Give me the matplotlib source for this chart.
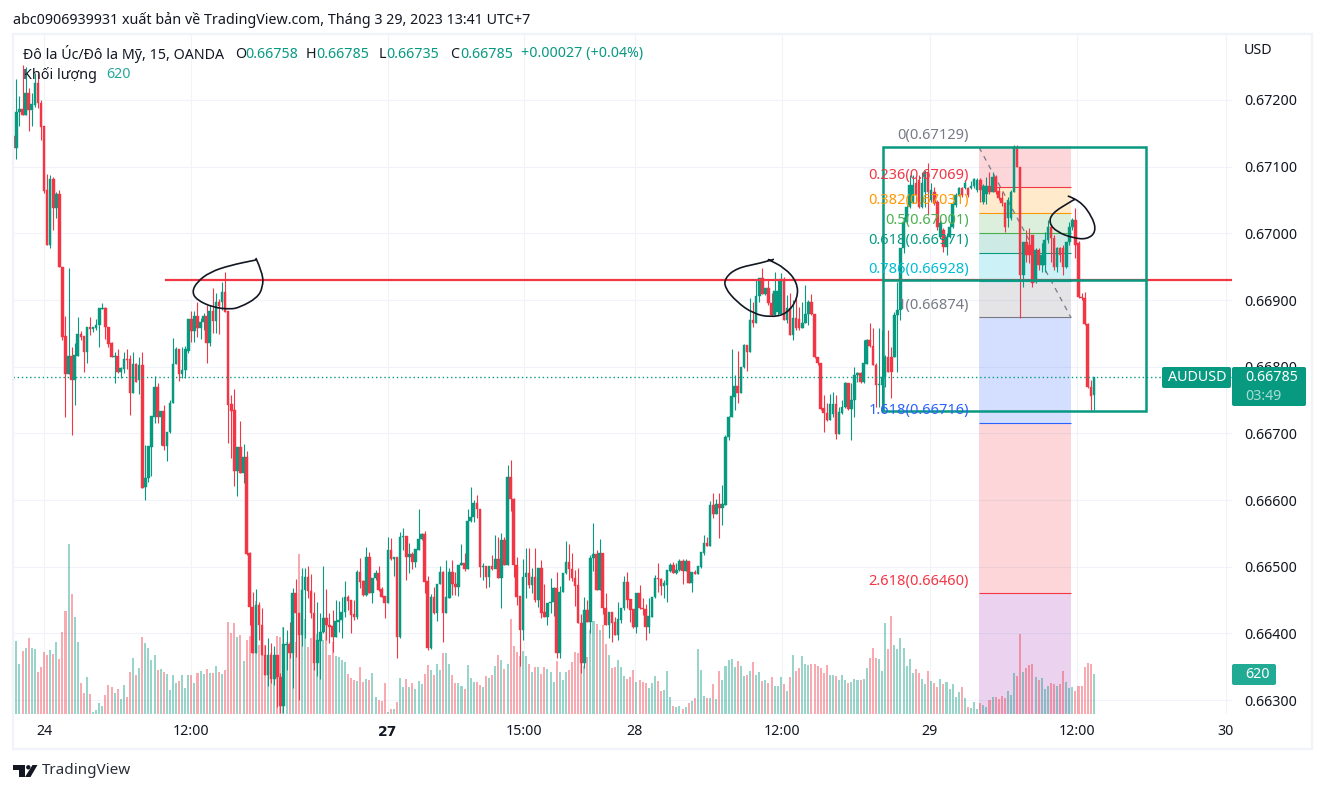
import numpy as np
import matplotlib
matplotlib.use('Agg')
import matplotlib.pyplot as plt
from matplotlib.patches import Rectangle, FancyBboxPatch, PathPatch, Polygon, Circle
from matplotlib.path import Path

plt.rcParams['font.family'] = ['Noto Sans', 'DejaVu Sans']

W, H = 1325, 793

# AUDUSD 15 phut, gia tinh theo 1/100000
opens = [
    67146,67128,67182,67187,67178,67210,67185,67192,67226,67196,
    67161,67065,66982,67081,67038,67059,66950,66846,66789,66816,
    66780,66816,66849,66846,66822,66860,66857,66858,66862,66886,
    66888,66860,66835,66815,66816,66792,66796,66811,66811,66760,
    66804,66780,66802,66620,66633,66680,66724,66769,66724,66733,
    66681,66702,66746,66804,66827,66789,66795,66824,66872,66854,
    66876,66858,66867,66876,66836,66884,66869,66897,66897,66912,
    66883,66744,66735,66643,66679,66640,66664,66520,66440,66370,
    66443,66412,66367,66337,66367,66331,66367,66334,66291,66382,
    66384,66370,66460,66430,66397,66465,66485,66464,66430,66355,
    66388,66402,66423,66412,66411,66395,66417,66420,66432,66454,
    66450,66429,66424,66492,66478,66457,66514,66460,66483,66490,
    66466,66456,66445,66525,66511,66514,66394,66544,66546,66514,
    66519,66507,66525,66542,66549,66478,66378,66454,66430,66474,
    66492,66430,66453,66492,66474,66470,66503,66505,66497,66569,
    66575,66596,66587,66500,66501,66485,66501,66497,66512,66483,
    66540,66503,66635,66602,66503,66456,66405,66485,66490,66472,
    66485,66450,66498,66432,66424,66445,66447,66468,66370,66462,
    66490,66507,66497,66483,66472,66415,66355,66435,66417,66513,
    66519,66465,66520,66438,66412,66432,66417,66397,66420,66438,
    66477,66451,66436,66409,66460,66438,66436,66409,66425,66454,
    66483,66481,66471,66472,66493,66502,66490,66495,66508,66493,
    66508,66475,66492,66489,66499,66520,66535,66531,66592,66579,
    66594,66588,66592,66694,66724,66754,66771,66760,66799,66832,
    66822,66870,66865,66906,66933,66909,66918,66895,66878,66882,
    66879,66932,66870,66888,66848,66873,66871,66858,66865,66879,
    66897,66879,66815,66805,66738,66730,66720,66729,66744,66699,
    66730,66740,66776,66737,66750,66787,66790,66777,66804,66840,
    66831,66802,66772,66772,66785,66815,66815,66815,66878,66885,
    66978,67017,67039,67045,67075,67080,67039,67062,67092,67050,
    67062,67047,66994,67005,66979,66994,67009,67042,67057,67068,
    67068,67068,67068,67071,67065,67080,67047,67059,67071,67062,
    67084,67063,67053,67045,67023,67023,67062,67129,67099,66938,
    66987,66982,66998,66927,66975,66952,66952,66990,67009,66993,
    66949,66978,66978,66949,66987,67009,67020,66985,66905,66903,
    66864,66770,66758]
closes = [
    67128,67182,67187,67178,67210,67185,67194,67226,67196,67160,
    67064,66982,67081,67038,67059,66950,66845,66789,66816,66780,
    66818,66849,66845,66822,66860,66857,66860,66862,66888,66888,
    66860,66834,66815,66816,66792,66798,66811,66810,66760,66804,
    66777,66802,66618,66633,66681,66726,66769,66724,66733,66681,
    66702,66746,66804,66827,66789,66795,66827,66872,66854,66876,
    66858,66867,66876,66836,66884,66869,66897,66891,66912,66882,
    66742,66733,66643,66679,66640,66664,66519,66440,66370,66443,
    66412,66367,66337,66367,66331,66367,66334,66291,66384,66384,
    66370,66460,66430,66397,66465,66485,66464,66430,66355,66390,
    66402,66423,66412,66410,66395,66418,66420,66432,66454,66448,
    66427,66424,66492,66477,66457,66514,66460,66483,66490,66465,
    66454,66445,66525,66511,66514,66394,66544,66546,66514,66519,
    66507,66526,66542,66549,66477,66378,66454,66430,66474,66492,
    66430,66454,66492,66474,66470,66503,66505,66497,66569,66575,
    66596,66587,66500,66501,66485,66501,66497,66512,66483,66540,
    66503,66635,66602,66503,66455,66405,66485,66490,66472,66485,
    66450,66498,66430,66424,66445,66447,66468,66370,66462,66490,
    66507,66497,66483,66471,66415,66355,66435,66417,66513,66519,
    66465,66520,66438,66412,66432,66415,66397,66421,66438,66477,
    66450,66435,66409,66460,66438,66436,66409,66426,66454,66483,
    66481,66471,66475,66495,66502,66490,66495,66508,66493,66508,
    66475,66492,66489,66501,66522,66535,66531,66592,66579,66594,
    66588,66594,66694,66724,66756,66771,66760,66799,66832,66822,
    66870,66865,66906,66933,66909,66918,66895,66878,66913,66913,
    66932,66870,66888,66848,66873,66858,66858,66865,66879,66897,
    66879,66815,66805,66736,66730,66720,66744,66744,66699,66732,
    66740,66776,66737,66750,66787,66790,66777,66805,66840,66831,
    66802,66772,66774,66785,66815,66792,66792,66878,66885,66978,
    67017,67039,67072,67072,67057,67039,67075,67092,67062,67065,
    67045,67009,67015,66979,66994,67009,67044,67057,67068,67057,
    67075,67057,67071,67081,67080,67065,67071,67071,67062,67084,
    67062,67053,67045,67009,67050,67062,67129,67099,66938,66987,
    66968,66968,66926,66975,66952,66968,66990,67009,66993,66949,
    66978,66968,66949,66987,67009,67020,66983,66905,66903,66864,
    66770,66756,66785]
highs = [
    67194,67232,67206,67252,67250,67218,67210,67240,67240,67200,
    67161,67089,67088,67084,67062,67065,66950,66876,66948,66830,
    66836,66875,66854,66846,66860,66875,66860,66871,66888,66895,
    66889,66860,66837,66822,66826,66800,66822,66826,66818,66822,
    66805,66814,66822,66683,66681,66726,66786,66775,66733,66742,
    66702,66750,66843,66830,66827,66830,66831,66872,66884,66884,
    66897,66873,66880,66892,66892,66918,66910,66901,66927,66942,
    66883,66757,66766,66679,66718,66684,66673,66522,66462,66466,
    66447,66438,66382,66393,66385,66381,66367,66340,66410,66405,
    66417,66468,66482,66430,66498,66498,66501,66489,66462,66447,
    66430,66501,66466,66430,66435,66450,66448,66454,66478,66457,
    66450,66450,66495,66513,66480,66529,66522,66483,66495,66501,
    66469,66456,66544,66543,66514,66514,66552,66558,66546,66535,
    66522,66526,66587,66550,66554,66486,66459,66469,66474,66501,
    66494,66510,66498,66510,66492,66503,66534,66520,66587,66620,
    66600,66608,66587,66505,66501,66501,66518,66548,66544,66550,
    66544,66653,66660,66603,66515,66456,66512,66528,66528,66498,
    66528,66498,66510,66474,66445,66483,66469,66492,66471,66490,
    66538,66534,66520,66495,66498,66429,66454,66450,66517,66565,
    66525,66541,66520,66460,66432,66432,66424,66447,66438,66486,
    66492,66451,66436,66460,66472,66453,66444,66453,66454,66487,
    66505,66483,66480,66495,66505,66507,66505,66511,66511,66511,
    66508,66492,66495,66501,66522,66547,66544,66598,66610,66601,
    66610,66622,66697,66726,66826,66787,66823,66799,66834,66832,
    66903,66897,66930,66933,66948,66918,66932,66910,66942,66930,
    66941,66935,66908,66910,66900,66903,66889,66897,66922,66900,
    66909,66879,66815,66805,66757,66745,66759,66762,66757,66740,
    66750,66777,66776,66776,66800,66792,66792,66840,66841,66865,
    66858,66805,66858,66855,66818,66855,66830,66882,66927,66978,
    67024,67042,67087,67087,67084,67087,67092,67095,67105,67075,
    67069,67050,67020,67008,67000,67015,67045,67060,67069,67069,
    67080,67069,67078,67083,67083,67083,67074,67085,67092,67092,
    67087,67069,67062,67047,67054,67065,67132,67132,67099,66987,
    67005,67008,66998,66978,66978,66985,67002,67020,67012,66997,
    66980,66980,66982,66987,67017,67023,67038,66988,66910,66912,
    66866,66780,66785]
lows = [
    67110,67112,67161,67178,67178,67154,67161,67190,67188,67140,
    67060,66982,66978,67005,67023,66950,66840,66724,66789,66698,
    66743,66816,66840,66792,66805,66848,66852,66855,66830,66886,
    66842,66830,66815,66775,66790,66783,66790,66796,66728,66760,
    66777,66759,66618,66600,66627,66636,66715,66715,66682,66675,
    66658,66700,66746,66804,66778,66783,66783,66820,66837,66837,
    66845,66842,66855,66806,66831,66850,66850,66849,66885,66882,
    66685,66663,66621,66606,66640,66625,66518,66412,66370,66370,
    66390,66367,66337,66321,66325,66322,66290,66280,66280,66345,
    66363,66318,66365,66300,66381,66393,66453,66423,66345,66336,
    66332,66400,66390,66385,66372,66395,66402,66393,66424,66435,
    66400,66420,66421,66468,66456,66456,66460,66445,66480,66463,
    66454,66423,66445,66510,66486,66363,66393,66525,66480,66490,
    66497,66500,66525,66540,66460,66375,66376,66429,66418,66474,
    66387,66430,66453,66458,66458,66456,66503,66494,66497,66567,
    66567,66573,66485,66480,66468,66470,66495,66498,66483,66438,
    66503,66503,66584,66485,66443,66351,66390,66453,66468,66460,
    66447,66440,66423,66424,66412,66430,66426,66363,66363,66462,
    66489,66480,66478,66441,66415,66340,66348,66417,66400,66493,
    66465,66465,66429,66412,66393,66387,66397,66390,66415,66435,
    66438,66417,66408,66400,66436,66427,66390,66400,66425,66453,
    66462,66458,66453,66447,66492,66490,66489,66493,66474,66493,
    66475,66462,66489,66489,66498,66517,66531,66531,66573,66579,
    66543,66562,66592,66690,66724,66735,66745,66760,66798,66793,
    66822,66859,66865,66897,66909,66907,66892,66876,66878,66878,
    66879,66870,66866,66848,66840,66855,66855,66858,66865,66862,
    66877,66813,66802,66735,66702,66718,66720,66725,66692,66699,
    66729,66738,66735,66690,66725,66777,66775,66775,66804,66830,
    66802,66739,66739,66732,66770,66792,66753,66815,66792,66870,
    66970,67015,67038,67045,67045,67038,67038,67039,67027,67047,
    67042,67005,66993,66972,66967,66993,67008,67039,67056,67055,
    67066,67055,67066,67068,67062,67047,67044,67044,67059,67062,
    67059,67050,67041,67002,67009,67020,67062,67099,66873,66920,
    66957,66955,66920,66925,66945,66942,66942,66985,66957,66945,
    66942,66957,66938,66948,66983,67005,66963,66903,66900,66862,
    66768,66735,66735]
volumes = [
    1205,1127,770,972,1018,1174,1018,1003,646,724,
    956,910,987,925,1112,848,1267,1592,2632,1856,
    1499,1112,476,321,569,305,26,57,165,119,
    290,445,414,321,383,227,445,259,646,863,
    600,708,1189,1096,1018,832,910,677,693,646,
    615,367,600,476,507,600,398,600,600,476,
    631,662,615,693,631,631,739,646,615,677,
    1422,1251,1406,1189,1220,817,1143,1205,1143,1747,
    1065,1065,1070,812,941,884,1215,1199,1354,1122,
    1122,1122,1122,2482,2140,1473,1044,1174,889,1241,
    1277,1148,1277,915,1122,900,879,838,807,620,
    558,527,512,734,496,543,527,636,264,217,
    202,481,31,78,78,186,558,419,543,419,
    481,388,512,465,620,760,682,605,776,682,
    946,946,776,605,481,481,434,388,760,558,
    496,496,450,419,589,558,605,744,915,838,
    698,776,1473,1055,962,900,977,900,776,651,
    724,724,620,724,698,651,496,822,651,527,
    651,682,807,962,946,1091,750,884,1303,1442,
    1396,1303,1380,1086,915,714,729,838,729,589,
    543,574,682,496,527,496,481,403,481,589,
    512,357,372,667,264,124,109,124,78,109,
    171,202,248,1008,682,279,248,248,465,233,
    667,527,745,838,853,729,822,745,589,605,
    667,807,605,646,507,522,476,569,429,429,
    569,460,352,569,910,662,719,894,770,755,
    770,770,739,708,631,755,600,605,589,527,
    605,527,481,496,543,527,527,543,713,869,
    1024,869,853,667,1411,1008,1520,1070,1008,1179,
    1024,744,853,636,698,636,543,465,667,512,
    481,419,543,465,496,388,465,264,341,419,
    248,109,93,186,78,171,140,109,217,264,
    264,233,279,248,357,295,636,589,1241,651,
    713,760,776,574,527,558,388,434,481,465,
    434,465,667,496,403,419,357,434,434,729,
    791,776,620]

price_ticks = [0.663, 0.664, 0.665, 0.666, 0.667, 0.668, 0.669, 0.670, 0.671, 0.672]
time_labels = ['24', '12:00', '', '15:00', '28', '12:00', '29', '12:00', '30']
time_bars = [10, 58, 122, 166.5, 202.5, 250.5, 298.5, 346.5, 395]

# fibonacci
fib_ratios = ['0', '0.236', '0.382', '0.5', '0.618', '0.786', '1', '1.618', '2.618']
fib_prices = [0.67129, 0.67069, 0.67031, 0.67001, 0.66971, 0.66928, 0.66874, 0.66716, 0.66460]
fib_colors = ['#787b86', '#f23645', '#ff9800', '#4caf50', '#089981', '#00bcd4', '#787b86', '#2962ff', '#f23645']
fib_left, fib_right = 314.6, 344.5

last_price = 0.66785
level_price = 0.66930
box_low = 0.667335

# net ve tay: (bar, gia)
circle_1 = [(79.0,.66963),(81.3,.66940),(81.3,.66919),(79.4,.66903),(73.8,.66889),(70.6,.66886),(65.0,.66889),
            (59.8,.66900),(58.2,.66912),(59.8,.66927),(64.1,.66942),(70.6,.66952),(79.0,.66960)]
circle_2 = [(247.8,.66961),(243.2,.66955),(235.7,.66948),(231.8,.66933),(231.8,.66918),(235.7,.66897),(240.9,.66880),
            (246.5,.66874),(252.0,.66879),(255.6,.66903),(255.3,.66927),(251.4,.66948),(245.8,.66961)]
circle_3 = [(343.5,.67056),(347.4,.67050),(351.7,.67023),(352.7,.67002),(349.8,.66991),(345.2,.66993),(340.0,.67002),
            (337.4,.67015),(338.3,.67030),(344.2,.67047),(345.8,.67051)]

GREEN = '#089981'
RED = '#f23645'
INK = '#131722'
GRID = '#f0f3fa'

o = np.array(opens) / 100000
c = np.array(closes) / 100000
hi = np.array(highs) / 100000
lo = np.array(lows) / 100000
vol = np.array(volumes)
x = np.arange(len(o))
up = c >= o
colors = np.where(up, GREEN, RED)

fig = plt.figure(figsize=(W / 100, H / 100), dpi=100)
pos = [13 / W, 1 - 714 / H, (1232 - 13) / W, (714 - 34) / H]

# tang duoi: luoi va vung fibo, giua: khoi luong, tren: nen
ax = fig.add_axes(pos)
ax_vol = fig.add_axes(pos, sharex=ax)
ax_top = fig.add_axes(pos, sharex=ax, sharey=ax)
ax_vol.axis('off')
ax_top.axis('off')

ax.set_xlim(-0.1, 397)
ax.set_ylim(0.66279, 0.67299)
ax_vol.set_ylim(0, 680 * 15.5)

ax.grid(True, color=GRID, linewidth=0.75)
ax.set_axisbelow(True)
for s in ax.spines.values():
    s.set_visible(False)
ax.yaxis.tick_right()
ax.set_yticks(price_ticks)
ax.set_yticklabels(['%.5f' % p for p in price_ticks])
ax.set_xticks(time_bars)
ax.set_xticklabels(time_labels)
ax.tick_params(axis='both', length=0, labelsize=10.25, labelcolor=INK)
ax.tick_params(axis='y', pad=9)
ax.tick_params(axis='x', pad=7.5)
# nhan ngay dau tuan in dam
ax.annotate('27', xy=(time_bars[2], 0), xycoords=ax.get_xaxis_transform(), xytext=(0, -18),
            textcoords='offset pixels', ha='center', va='center', fontsize=10, fontweight='bold',
            family='DejaVu Sans', color=INK, annotation_clip=False)

# vung fibo
bottoms = fib_prices[1:] + [ax.get_ylim()[0]]
fills = fib_colors[1:] + ['#9c27b0']
for top, bot, col in zip(fib_prices, bottoms, fills):
    ax.fill_between([fib_left, fib_right], bot, top, color=col, alpha=0.2, linewidth=0)
ax.hlines(fib_prices, fib_left, fib_right, colors=fib_colors, linewidth=0.8)
ax.plot([fib_left, fib_right], [fib_prices[0], fib_prices[6]], color='#787b86', linewidth=0.9, linestyle=(0, (4, 4)))

ax_vol.bar(x, vol, width=0.66, color=colors, alpha=0.42, linewidth=0)

# nen
ax_top.vlines(x, lo, hi, colors=colors, linewidth=0.8, zorder=2)
ax_top.bar(x, np.abs(c - o), bottom=np.minimum(o, c), width=0.84, color=colors,
           edgecolor=colors, linewidth=0.3, zorder=3)

ax_top.plot([-0.1, 397], [last_price, last_price], color=GREEN, linewidth=1.0, linestyle=(0, (1, 2)), zorder=3)
ax_top.plot([49.7, 397], [level_price, level_price], color=RED, linewidth=1.6, zorder=4)
ax_top.plot([283.3, 369], [level_price, level_price], color=GREEN, linewidth=1.8, zorder=4.5)
ax_top.add_patch(Rectangle((283.3, box_low), 369 - 283.3, fib_prices[0] - box_low, fill=False,
                           edgecolor=GREEN, linewidth=1.8, zorder=4.5))

# net khoanh tron
for pts in [circle_1, circle_2, circle_3]:
    pts = np.array(pts)
    mids = (pts[:-1] + pts[1:]) / 2
    verts = [pts[0]]
    codes = [Path.MOVETO]
    for i in range(1, len(pts) - 1):
        verts += [pts[i], mids[i]]
        codes += [Path.CURVE3, Path.CURVE3]
    verts.append(pts[-1])
    codes.append(Path.LINETO)
    ax_top.add_patch(PathPatch(Path(verts, codes), fill=False, edgecolor='#131722', linewidth=1.2, zorder=6))

# nhan fibo
for ratio, price, col in zip(fib_ratios, fib_prices, fib_colors):
    ax_top.annotate('%s(%.5f)' % (ratio, price), xy=(fib_left, price), xytext=(-10, 12),
                    textcoords='offset pixels', ha='right', va='center', fontsize=10.55, color=col,
                    zorder=5, annotation_clip=False)


def fx(px):
    return px / W


def fy(px):
    return 1 - px / H


def label(px, py, s, color=INK, **kw):
    kw.setdefault('fontsize', 10.25)
    fig.text(fx(px), fy(py), s, color=color, va='center', ha=kw.pop('ha', 'left'), **kw)


def box(x0, y0, x1, y1, color):
    fig.add_artist(FancyBboxPatch((x0, H - y1), x1 - x0, y1 - y0, boxstyle='round,pad=0,rounding_size=2',
                                  transform=None, facecolor=color, edgecolor='none', zorder=8))


# khung ngoai
fig.add_artist(Rectangle((fx(13), fy(749)), (1312 - 13) / W, (749 - 34) / H, fill=False, edgecolor=GRID,
                         linewidth=1.6, transform=fig.transFigure))

label(13, 20, 'abc0906939931 xuất bản về TradingView.com, Tháng 3 29, 2023 13:41 UTC+7')
label(23, 54, 'Đô la Úc/Đô la Mỹ, 15, OANDA')
label(235, 54, 'O')
label(245, 54, '0.66758', GREEN)
label(306, 54, 'H')
label(316, 54, '0.66785', GREEN)
label(379, 54, 'L')
label(386, 54, '0.66735', GREEN)
label(450, 54, 'C')
label(460, 54, '0.66785', GREEN)
label(521, 54, '+0.00027 (+0.04%)', GREEN)
label(23, 75, 'Khối lượng')
label(106, 75, '620', '#26a69a')
label(1244, 51, 'USD')

box(1162, 367, 1231, 388, GREEN)
box(1232, 367, 1306, 406, GREEN)
box(1232, 664, 1276, 685, '#22ab94')
for px, py, s, col in [(1197, 377.5, 'AUDUSD', 'white'), (1272, 377.5, '0.66785', 'white'),
                       (1263, 396, '03:49', '#a9dcd3'), (1257, 674.5, '620', 'white')]:
    fig.text(fx(px), fy(py), s, color=col, fontsize=10.25, fontweight='medium', ha='center', va='center', zorder=9)

# logo TradingView
ink = '#131722'
logo = [[(13, 765), (24.5, 765), (24.5, 777), (19, 777), (19, 769.5), (13, 769.5)],
        [(32.5, 765), (37.5, 765), (30.5, 777), (25, 777)]]
for poly in logo:
    fig.add_artist(Polygon([(fx(a), fy(b)) for a, b in poly], closed=True, facecolor=ink, edgecolor='none',
                           transform=fig.transFigure))
fig.add_artist(Circle((28.3, H - 767.3), 2.2, facecolor=ink, edgecolor='none', transform=None))
label(42, 771, 'TradingView', '#2a2e39', fontsize=11)

fig.savefig('out.png', dpi=100)
